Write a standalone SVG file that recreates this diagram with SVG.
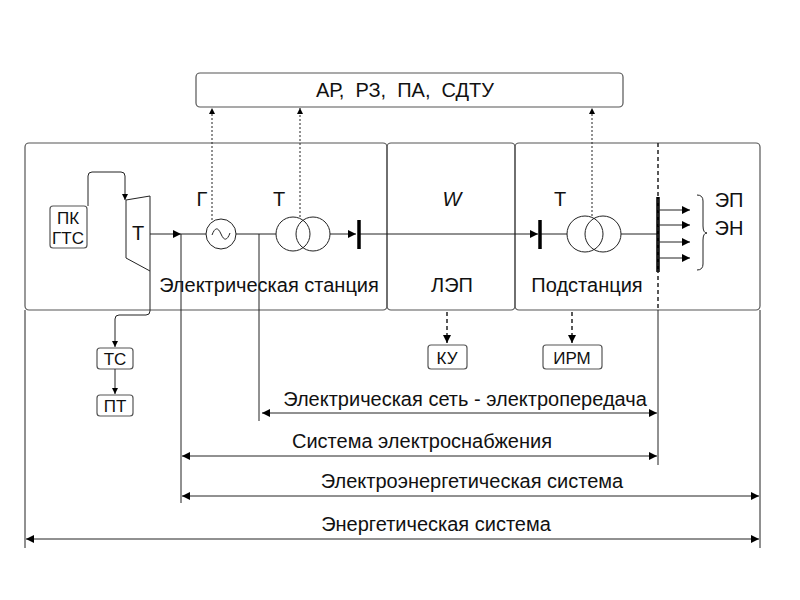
<svg xmlns="http://www.w3.org/2000/svg" width="800" height="600" viewBox="0 0 800 600">
<defs>
<marker id="a" viewBox="0 0 10 10" refX="10" refY="5" markerWidth="10" markerHeight="8" markerUnits="userSpaceOnUse" orient="auto-start-reverse"><path d="M0,0L10,5L0,10z" fill="#000"/></marker>
<marker id="s" viewBox="0 0 10 10" refX="10" refY="5" markerWidth="7" markerHeight="6" markerUnits="userSpaceOnUse" orient="auto"><path d="M0,0L10,5L0,10z" fill="#000"/></marker>
</defs>
<style>
text{font-family:"Liberation Sans",Arial,sans-serif;font-size:20px;fill:#111;text-anchor:middle}
.sm{font-size:17px}
.b{fill:none;stroke:#555;stroke-width:1.2}
.l{fill:none;stroke:#222;stroke-width:1}
.bus{stroke:#000;stroke-width:3.5}
.dot{fill:none;stroke:#222;stroke-width:1;stroke-dasharray:2 2}
.dash{fill:none;stroke:#222;stroke-width:1.5;stroke-dasharray:4 3}
</style>
<rect width="800" height="600" fill="#fff"/>
<g id="control"><rect class="b" x="196" y="73" width="427" height="34" rx="4"/><text x="405" y="97" xml:space="preserve">АР,  РЗ,  ПА,  СДТУ</text></g>
<g id="station"><rect class="b" x="25" y="143" width="362" height="167" rx="4"/><text x="269" y="292">Электрическая станция</text></g>
<g id="lep"><rect class="b" x="387" y="143" width="128" height="167" rx="4"/><text x="452" y="206" font-style="italic">W</text><text x="452" y="292">ЛЭП</text></g>
<g id="substation"><rect class="b" x="515" y="143" width="245" height="167" rx="4"/><text x="587" y="292">Подстанция</text><text x="560" y="206">Т</text></g>
<g id="pkgts"><rect class="b" x="50" y="206" width="37" height="42" rx="3"/><text class="sm" x="68" y="224">ПК</text><text class="sm" x="68" y="244">ГТС</text></g>
<g id="turbine"><path class="l" d="M126,200L150,196L150,271L126,258z"/><text x="138" y="240">Т</text></g>
<g id="generator"><circle class="l" cx="221" cy="234" r="15"/><path class="l" d="M212,235c3,-8 6,-8 9,-1s6,7 9,-1"/><text x="202" y="206">Г</text></g>
<g id="transformer1"><circle class="l" cx="293" cy="234" r="17"/><circle class="l" cx="313" cy="234" r="17"/><text x="279" y="206">Т</text></g>
<g id="transformer2"><circle class="l" cx="585" cy="234" r="18"/><circle class="l" cx="603" cy="234" r="18"/></g>
<g id="ts"><rect class="b" x="97" y="348" width="36" height="21" rx="3"/><text class="sm" x="115" y="365">ТС</text></g>
<g id="pt"><rect class="b" x="97" y="395" width="36" height="21" rx="3"/><text class="sm" x="115" y="412">ПТ</text></g>
<g id="ku"><rect class="b" x="428" y="345" width="39" height="24" rx="3"/><text class="sm" x="447" y="364">КУ</text></g>
<g id="irm"><rect class="b" x="543" y="345" width="59" height="24" rx="3"/><text class="sm" x="572" y="364">ИРМ</text></g>
<g id="consumers"><text x="729" y="207">ЭП</text><text x="729" y="235">ЭН</text><path class="l" d="M697,195q6,0 6,6v25q0,7 4,7q-4,0 -4,7v24q0,6 -6,6"/></g>
<g id="connectors">
<path class="l" d="M88,206V176q0,-4 4,-4h29q4,0 4,4V200" marker-end="url(#s)"/>
<path class="l" d="M150,234H181" marker-end="url(#a)"/>
<path class="l" d="M181,234H206M236,234H276M330,234H356" marker-end="url(#a)"/>
<path class="l" d="M359,234H538" marker-end="url(#a)"/>
<path class="l" d="M541,234H567M621,234H658"/>
<line class="bus" x1="359" y1="220" x2="359" y2="249"/>
<line class="bus" x1="540" y1="220" x2="540" y2="249"/>
<line class="bus" x1="658" y1="197" x2="658" y2="272"/>
<line class="l" x1="658" y1="210" x2="690" y2="210" marker-end="url(#a)"/>
<line class="l" x1="658" y1="225" x2="690" y2="225" marker-end="url(#a)"/>
<line class="l" x1="658" y1="242" x2="690" y2="242" marker-end="url(#a)"/>
<line class="l" x1="658" y1="258" x2="690" y2="258" marker-end="url(#a)"/>
<path class="dot" d="M212,220V108" marker-end="url(#s)"/>
<path class="dot" d="M300,217V108" marker-end="url(#s)"/>
<path class="dot" d="M592,216V108" marker-end="url(#s)"/>
<path class="dash" d="M658,143V310"/>
<line class="l" x1="658" y1="310" x2="658" y2="465"/>
<path class="dash" d="M447,312V343" marker-end="url(#a)"/>
<path class="dash" d="M572,312V343" marker-end="url(#a)"/>
<path class="l" d="M150,271V311q0,4 -4,4h-27q-4,0 -4,4V347" marker-end="url(#s)"/>
<path class="l" d="M115,369V394" marker-end="url(#s)"/>
<line class="l" x1="181" y1="234" x2="181" y2="503"/>
<line class="l" x1="259" y1="234" x2="259" y2="421"/>
<line class="l" x1="25" y1="310" x2="25" y2="548"/>
<line class="l" x1="760" y1="310" x2="760" y2="548"/>
<path class="l" d="M262,413H657" marker-start="url(#a)" marker-end="url(#a)"/>
<path class="l" d="M182,456H657" marker-start="url(#a)" marker-end="url(#a)"/>
<path class="l" d="M182,496H759" marker-start="url(#a)" marker-end="url(#a)"/>
<path class="l" d="M26,539H759" marker-start="url(#a)" marker-end="url(#a)"/>
</g>
<g id="dimension-labels">
<text x="465" y="406">Электрическая сеть - электропередача</text>
<text x="422" y="448">Система электроснабжения</text>
<text x="472" y="488">Электроэнергетическая система</text>
<text x="436" y="531">Энергетическая система</text>
</g>
</svg>
